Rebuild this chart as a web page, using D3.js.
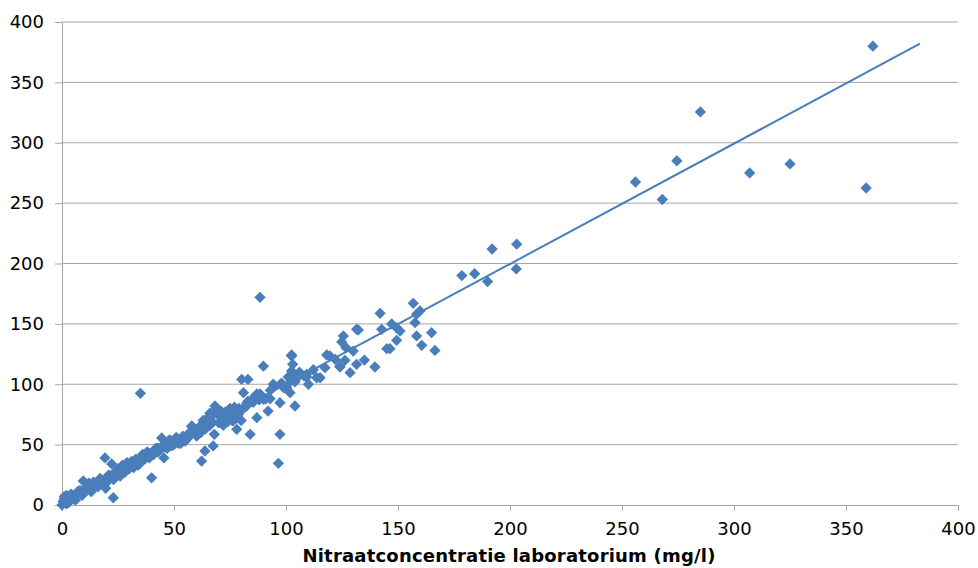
<!DOCTYPE html>
<html lang="nl">
    <head>
        <meta charset="utf-8">
        <title>Nitraat lab vs veld</title>
        <script type="text/javascript" src="https://d3js.org/d3.v7.min.js"></script>
        <style type="text/css">
          body{ margin:0; background:#fff; }
          svg{ width:978px; height:568px; display:block; }
          text{ font-family:"DejaVu Sans", Verdana, sans-serif; fill:#000; }
        </style>
    </head>
    <body>
      <svg></svg>

        <script type="text/javascript">

        // lab value (x) and field value (y)
        const labValues = [
          0,0.5,1,1,1.5,2,2,3,3,4,5,5,6,7,8,8,9,9.5,10,11,12,12,13,14,15,16,17,18,19.2,19.5,20,21,22.2,22.9,23,24,25,26,27,28,29,30,31,32,33,34,35,36,37,38,39,40,40,41,42,43,44,44.5,45,45.5,46,47,48,49,50,51,52,53,54,55,56,57,57.9,58,59,60.1,61,62,62.3,63,63.8,64,65,65,66,66.5,67,67.5,68,68.3,69,70,70.5,70,71,72,72,73,74,74,75,76,76.5,77,78,78.7,79,80.2,80,81,82.4,82.4,83,84,85.4,86,87,88.4,88.4,89.9,90,92,92.9,94.3,95,96.6,97.3,97.3,100.3,101.8,102.2,102.5,102.5,102.5,103,104,105,108,109.2,109.2,110,112.2,113.7,115.2,117.4,118.2,119.6,122,124,124.1,124.9,125.6,126.3,126.8,128.6,130,131.5,131.5,132.3,135,139.7,142,142.7,145,146.4,147.2,149.4,149.4,150.9,156.8,157.6,158.3,158.3,159.8,160.6,165,166.5,178.5,184.2,190,192,203,202.8,256,268,274.5,285,307,325,359,362,
          2,3,4,6,7,9,11,13,14,16,17,19,20,21,23,24,25,26,27,28,29,30,31,32,33,34,35,36,37,38,39,41,42,43,46,47,48,49,50,51,52,53,54,55,56,58,60,62,63,64,66,67,69,71,73,75,76,77,78,79,81,83,86,87,88,89,91,93,98,99,101,103,104,106
        ];
        const fieldValues = [
          0,3,5,7,2,4,8,3,6,7,5,8,7,9,10,12,11,19.9,13,12,15,18,16,14,17,19,18,20,39,13.8,23,21,34,6,26,25,27,30,29,32,31,34,33,36,35,37,92.5,38,41,40,43,42,22.5,45,44,47,46,55.5,49,39,48,51,50,53,52,54,51,55,56,54,58,60,65.4,62,61,57,63,66,36.4,64,44.7,67,69,72,66,70,74,48.9,58.5,82,78,68,73,75,77.8,66,71,77,69,74,80,72,70,78,62.7,75,80,104,70,93,82,84,104,58.5,85,90,72.3,92,172,115,87.5,77.8,88,100,98.5,34.5,58.5,84.7,97.1,93,102.7,111,124.2,123.4,116.5,82,105.4,107,106,108.2,100,112,105.4,105.4,113.7,124.2,123.4,120.6,115,114.3,135,140,119.8,130.3,109.6,127.5,116.5,145.5,145,120,114.3,158.7,145.5,129.5,129.5,150,136.4,146.8,144,167,151,158,140,160.7,132.2,142.7,128,190,191.5,185,212,216,195.5,267.5,253,285,325.5,275,282.5,262.5,380,
          1,2,9,4,11,8,15,11,19,15,22,17,19,25,21,24,30,24,33,27,35,30,36,31,38,33,35,42,38,44,39,42,47,44,51,47,54,49,50,56,54,51,57,53,55,65,59,60,70,63,76,68,80,76,70,78,70,81,72,77,80,86,88,92,87,90,88,95,101,97,106,108,102,110
        ];

        // fitted trend line endpoints
        const trendX = [0, 383];
        const trendY = [0.3, 382];

        const xTicks = [0, 50, 100, 150, 200, 250, 300, 350, 400];
        const yTicks = [0, 50, 100, 150, 200, 250, 300, 350, 400];

        const xTitle = "Nitraatconcentratie laboratorium (mg/l)";

        const svg = d3.select("svg");
        const blue = "#4a7ebb";
        const grey = "#a6a6a6";

        const x = d3.scaleLinear().domain([0, 400]).range([62, 958]);
        const y = d3.scaleLinear().domain([0, 400]).range([505, 22]);

        //horizontal gridlines
        svg.append("g")
           .selectAll("line")
           .data(yTicks.slice(1))
           .join("line")
           .attr("x1", x(0)).attr("x2", x(400))
           .attr("y1", d => y(d)).attr("y2", d => y(d))
           .attr("stroke", grey).attr("stroke-width", 1);

        //axes
        const xAxis = svg.append("g")
           .attr("transform", `translate(0,${y(0)})`)
           .call(d3.axisBottom(x).tickValues(xTicks).tickSize(6).tickPadding(9));
        const yAxis = svg.append("g")
           .attr("transform", `translate(${x(0)},0)`)
           .call(d3.axisLeft(y).tickValues(yTicks).tickSize(7).tickPadding(11));

        [xAxis, yAxis].forEach(a => {
          a.select(".domain").attr("stroke", grey);
          a.selectAll(".tick line").attr("stroke", grey);
          a.selectAll(".tick text")
           .style("font-family", '"DejaVu Sans", Verdana, sans-serif')
           .style("font-size", "18px")
           .attr("fill", "#000");
        });
        xAxis.selectAll(".tick text").attr("dy", "0.85em");

        //points
        const points = labValues.map((v, i) => [v, fieldValues[i]]);
        const diamond = d3.symbol().type(d3.symbolSquare).size(64);
        svg.append("g")
           .selectAll("path")
           .data(points)
           .join("path")
           .attr("d", diamond)
           .attr("transform", d => `translate(${x(d[0])},${y(d[1])}) rotate(45)`)
           .attr("fill", blue);

        //trend line
        const line = d3.line().x(d => x(d[0])).y(d => y(d[1]));
        svg.append("path")
           .datum(trendX.map((v, i) => [v, trendY[i]]))
           .attr("d", line)
           .attr("fill", "none")
           .attr("stroke", blue)
           .attr("stroke-width", 2);

        //axis title
        svg.append("text")
           .attr("x", 509)
           .attr("y", 562)
           .attr("text-anchor", "middle")
           .style("font-size", "18px")
           .style("font-weight", "bold")
           .style("letter-spacing", "0.2px")
           .text(xTitle);
    </script>
</body>
</html>
